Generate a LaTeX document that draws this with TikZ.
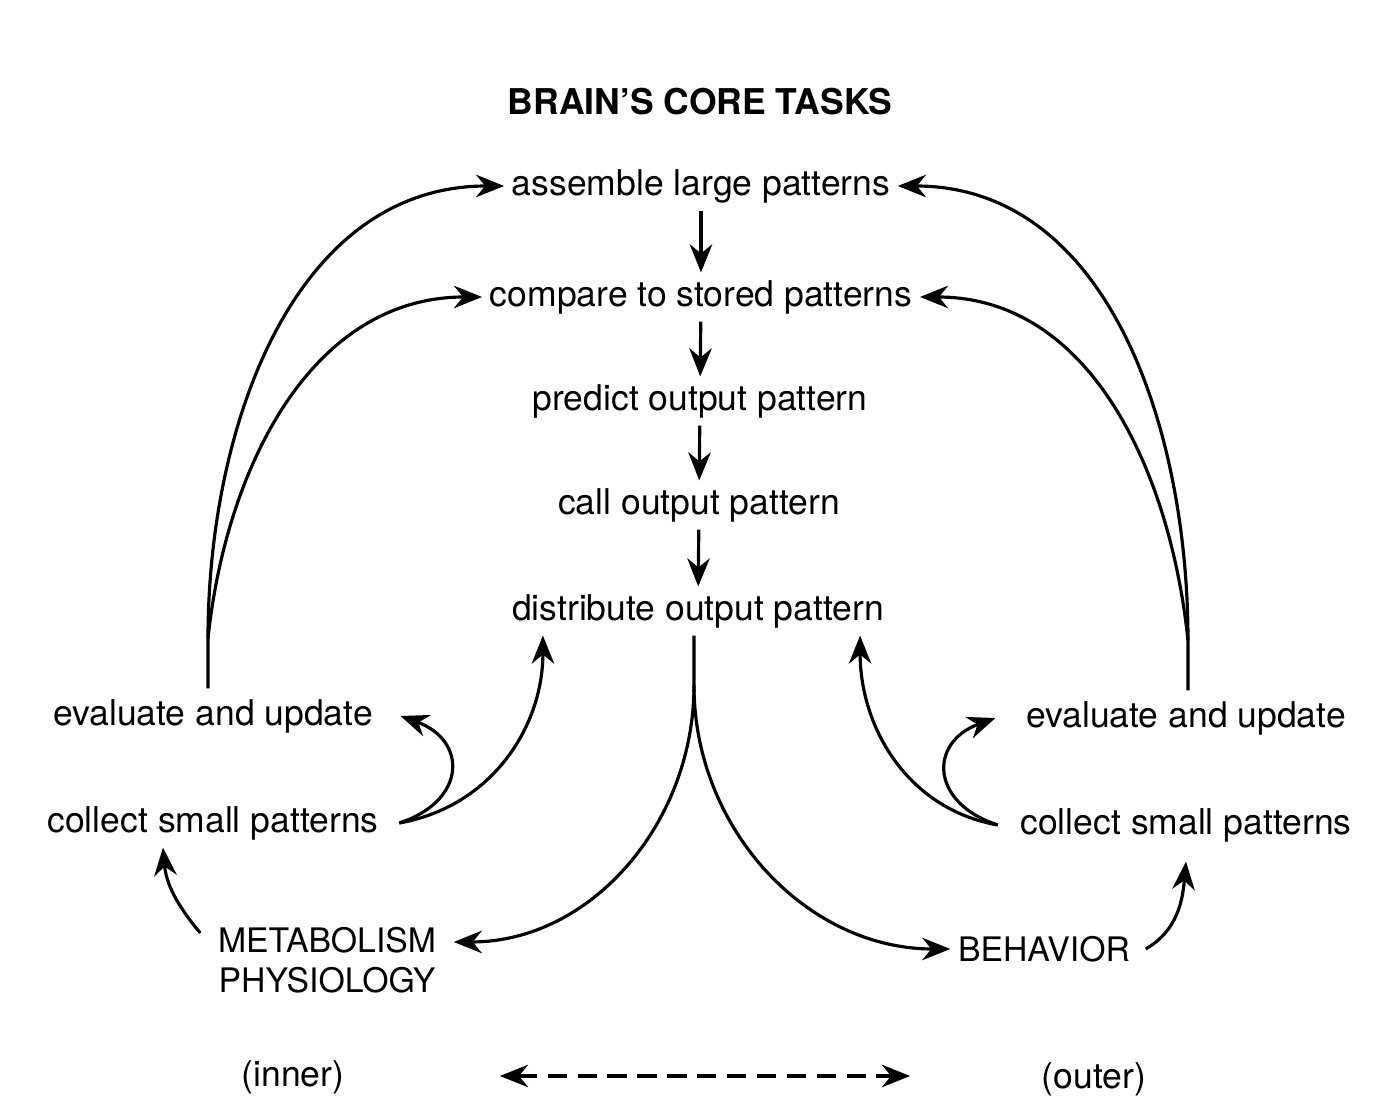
\documentclass[tikz,border=0pt]{standalone}
\usepackage{fontspec}
\setmainfont{TeX Gyre Heros}
\usetikzlibrary{arrows.meta}

\begin{document}
\begin{tikzpicture}[x=0.01cm,y=0.01cm,
    task/.style={inner sep=2pt,font=\fontsize{10.1}{12}\selectfont},
    caps/.style={inner sep=2pt,font=\fontsize{9.6}{11.4}\selectfont,align=center},
    arr/.style={-{Stealth[length=8pt,width=6.4pt]},line width=0.9pt},
    dblarr/.style={{Stealth[length=8pt,width=6.4pt]}-{Stealth[length=8pt,width=6.4pt]},
        line width=0.9pt,dash pattern=on 5.5pt off 3pt},
    ]
    \useasboundingbox (0,0) rectangle (1399,1112);

    % Title
    \node[font=\fontsize{10.1}{12}\selectfont\bfseries] (title) at (700,1010) {BRAIN’S CORE TASKS};

    % Core tasks
    \node[task] (assemble) at (701,926) {assemble large patterns};
    \node[task] (compare) at (701,815) {compare to stored patterns};
    \node[task] (predict) at (700,711) {predict output pattern};
    \node[task] (call) at (699,607) {call output pattern};
    \node[task] (distribute) at (698,501) {distribute output pattern};

    \draw[arr] (assemble) -- (compare);
    \draw[arr] (compare) -- (predict);
    \draw[arr] (predict) -- (call);
    \draw[arr] (call) -- (distribute);

    % Left side (inner)
    \node[task] (evalL) at (213,396) {evaluate and update};
    \node[task] (collectL) at (213,289) {collect small patterns};
    \node[caps] (metab) at (327,152) {METABOLISM\\PHYSIOLOGY};

    % Right side (outer)
    \node[task] (evalR) at (1186,394) {evaluate and update};
    \node[task] (collectR) at (1186,287) {collect small patterns};
    \node[caps] (behavior) at (1044,163) {BEHAVIOR};

    % Feedback to the top
    \draw[arr] ([xshift=-0.05cm,yshift=0.03cm]evalL.north) -- ++(0,50) coordinate (splitL)
        to[out=90,in=180] (assemble.west);
    \draw[arr] (splitL) to[out=84,in=180] (compare.west);
    \draw[arr] ([xshift=0.02cm,yshift=0.03cm]evalR.north) -- ++(0,50) coordinate (splitR)
        to[out=90,in=0] (assemble.east);
    \draw[arr] (splitR) to[out=96,in=0] (compare.east);

    % Small loops
    \draw[arr] ([xshift=0.13cm]collectL.east) to[out=10,in=-90] ([xshift=-1.55cm]distribute.south);
    \draw[arr] ([xshift=0.13cm]collectL.east) to[out=18,in=-20,looseness=1.7] ([xshift=0.2cm]evalL.east);
    \draw[arr] ([xshift=-0.15cm]collectR.west) to[out=170,in=-90] ([xshift=1.62cm]distribute.south);
    \draw[arr] ([xshift=-0.15cm]collectR.west) to[out=162,in=200,looseness=1.7] ([xshift=-0.23cm]evalR.west);

    % Output
    \draw[arr] ([xshift=-0.04cm]distribute.south) -- ++(0,-50) coordinate (splitD)
        to[out=-90,in=0] ([xshift=0.1cm,yshift=0.18cm]metab.east);
    \draw[arr] (splitD) to[out=-90,in=180] (behavior.west);
    \draw[arr] ([xshift=-0.1cm,yshift=0.27cm]metab.west) to[out=130,in=-85] ([xshift=-0.5cm]collectL.south);
    \draw[arr] ([xshift=0.08cm]behavior.east) to[out=30,in=-95] ([yshift=-0.12cm]collectR.south);

    % Inner / outer
    \node[task] (inner) at (293,35) {(inner)};
    \node[task] (outer) at (1094,33) {(outer)};
    \coordinate (dl) at (500,36);
    \coordinate (dr) at (910,36);
    \draw[dblarr] (dl) -- (dr);

\end{tikzpicture}
\end{document}
